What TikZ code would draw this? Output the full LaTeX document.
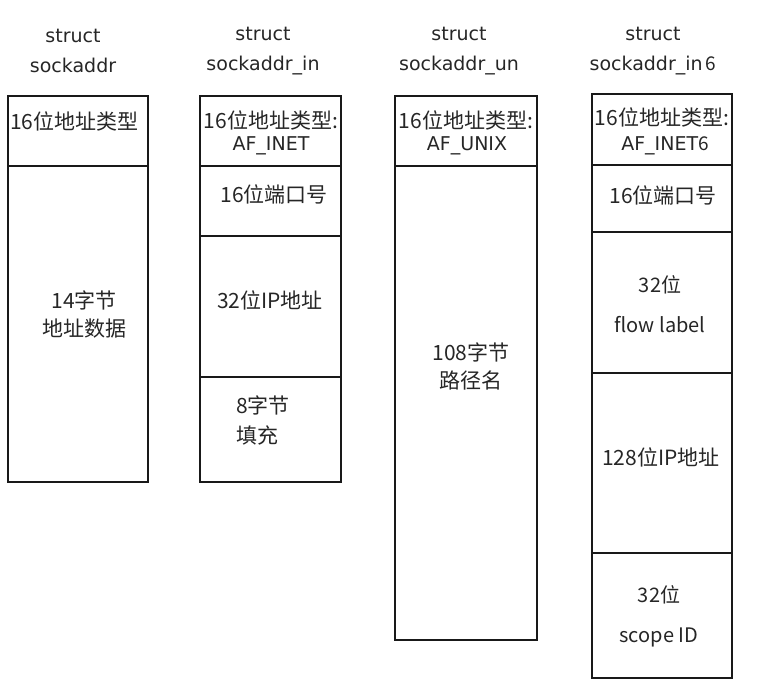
\documentclass[tikz,border=0pt]{standalone}
\usepackage{fontspec}
\setmainfont{DejaVu Sans}
\newfontfamily\cjk{Noto Sans CJK SC}
\begin{document}
\begin{tikzpicture}[x=1pt,y=-1pt,
  cell/.style={draw=black!90, line width=2.6pt, inner sep=0pt},
  cellthick/.style={cell, line width=2.9pt},
  title/.style={align=center, inner sep=0pt, text=black!85,
    font=\fontsize{19}{30}\selectfont},
  lat/.style={inner sep=0pt, text=black!85, font=\fontsize{19}{23}\selectfont},
  zh/.style={inner sep=0pt, text=black!85, font=\cjk\fontsize{21}{25}\selectfont},
  zhtwo/.style={zh, align=center, font=\cjk\fontsize{20}{40}\selectfont}]
\useasboundingbox (0,0) rectangle (761,697);

% struct sockaddr
\node[title] (t1) at (73,51) {struct\\sockaddr};
\node[cell, minimum width=140pt, minimum height=70pt]  (a1) at (78,131) {};
\node[cell, minimum width=140pt, minimum height=316pt] (a2) at (78,324) {};
\node[zh, anchor=west] (a1t) at (10,121) {16位地址类型};
\node[zh, align=center, font=\cjk\fontsize{21}{28}\selectfont] (a2t) at (84,314) {14字节\\地址数据};

% struct sockaddr_in
\node[title] (t2) at (263,51) {struct\\sockaddr\_in};
\node[cell, minimum width=141pt, minimum height=70pt]  (b1) at (270.5,131) {};
\node[cell, minimum width=141pt, minimum height=70pt]  (b2) at (270.5,201) {};
\node[cell, minimum width=141pt, minimum height=141pt] (b3) at (270.5,306.5) {};
\node[cell, minimum width=141pt, minimum height=105pt] (b4) at (270.5,429.5) {};
\node[zh] (b1t) at (271,120) {16位地址类型:};
\node[lat] (b1u) at (271,146) {AF\_INET};
\node[zh] (b2t) at (274,194) {16位端口号};
\node[zh] (b3t) at (270,300) {32位IP地址};
\node[zh, align=left, anchor=west, font=\cjk\fontsize{21}{30}\selectfont] (b4t) at (236,420) {8字节\\填充};

% struct sockaddr_un
\node[title] (t3) at (459,51) {struct\\sockaddr\_un};
\node[cell, minimum width=142pt, minimum height=70pt]  (c1) at (466,131) {};
\node[cell, minimum width=142pt, minimum height=474pt] (c2) at (466,403) {};
\node[zh] (c1t) at (466,120) {16位地址类型:};
\node[lat] (c1u) at (467,146) {AF\_UNIX};
\node[zh, align=center, font=\cjk\fontsize{21}{28}\selectfont] (c2t) at (471,366) {108字节\\路径名};

% struct sockaddr_in6
\node[title] (t4) at (653,51) {struct\\sockaddr\_in\,{\cjk 6}};
\node[cellthick, minimum width=140pt, minimum height=71pt]  (d1) at (662,129.5) {};
\node[cellthick, minimum width=140pt, minimum height=67pt]  (d2) at (662,198.5) {};
\node[cellthick, minimum width=140pt, minimum height=141pt] (d3) at (662,302.5) {};
\node[cellthick, minimum width=140pt, minimum height=180pt] (d4) at (662,463) {};
\node[cellthick, minimum width=140pt, minimum height=125pt] (d5) at (662,615.5) {};
\node[zh] (d1t) at (662,117) {16位地址类型:};
\node[lat] (d1u) at (665,146) {AF\_INET{\cjk 6}};
\node[zh] (d2t) at (663,195) {16位端口号};
\node[zhtwo] (d3t) at (660,304) {32位\\flow label};
\node[zh] (d4t) at (661,457) {128位IP地址};
\node[zhtwo] (d5t) at (659,616) {32位\\scope ID};
\end{tikzpicture}
\end{document}
